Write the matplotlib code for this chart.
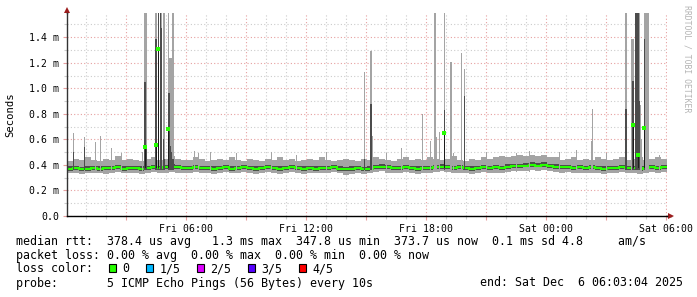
import numpy as np
import matplotlib
matplotlib.use("Agg")
import matplotlib.pyplot as plt
import matplotlib.dates as mdates
from matplotlib.ticker import MultipleLocator, FuncFormatter
from matplotlib.patches import Rectangle
from datetime import datetime

# ---- data (ms), 100 bins of 18 min, Fri 00:03 -> Sat 06:03 ----
start = datetime(2025, 12, 5, 0, 3)
end = datetime(2025, 12, 6, 6, 3)
bin_min = 18

rtt_med = [0.370, 0.375, 0.365, 0.370, 0.375, 0.370, 0.375, 0.375, 0.380, 0.370,
           0.375, 0.375, 0.370, 0.375, 0.380, 0.375, 0.380, 0.385, 0.380, 0.375,
           0.375, 0.380, 0.375, 0.375, 0.370, 0.375, 0.380, 0.370, 0.375, 0.380,
           0.375, 0.370, 0.375, 0.380, 0.375, 0.370, 0.375, 0.380, 0.375, 0.370,
           0.375, 0.370, 0.375, 0.375, 0.380, 0.370, 0.365, 0.370, 0.375, 0.365,
           0.370, 0.380, 0.385, 0.380, 0.375, 0.375, 0.380, 0.375, 0.370, 0.375,
           0.375, 0.380, 0.385, 0.380, 0.375, 0.380, 0.375, 0.370, 0.375, 0.380,
           0.375, 0.380, 0.375, 0.385, 0.390, 0.390, 0.395, 0.400, 0.395, 0.400,
           0.390, 0.385, 0.380, 0.380, 0.375, 0.380, 0.375, 0.380, 0.375, 0.370,
           0.375, 0.375, 0.380, 0.375, 0.375, 0.370, 0.375, 0.380, 0.375, 0.380]
rtt_p1 = [0.335, 0.340, 0.330, 0.335, 0.340, 0.335, 0.330, 0.340, 0.345, 0.335,
          0.340, 0.335, 0.330, 0.340, 0.345, 0.335, 0.340, 0.345, 0.340, 0.335,
          0.340, 0.345, 0.335, 0.340, 0.330, 0.335, 0.345, 0.335, 0.340, 0.345,
          0.335, 0.330, 0.340, 0.345, 0.335, 0.330, 0.340, 0.345, 0.335, 0.330,
          0.340, 0.335, 0.340, 0.335, 0.345, 0.335, 0.325, 0.330, 0.340, 0.330,
          0.335, 0.345, 0.350, 0.340, 0.335, 0.340, 0.345, 0.335, 0.330, 0.340,
          0.340, 0.345, 0.350, 0.345, 0.335, 0.340, 0.335, 0.330, 0.340, 0.345,
          0.335, 0.340, 0.335, 0.345, 0.350, 0.350, 0.355, 0.360, 0.355, 0.360,
          0.350, 0.345, 0.340, 0.345, 0.335, 0.340, 0.335, 0.340, 0.335, 0.330,
          0.335, 0.340, 0.345, 0.335, 0.340, 0.330, 0.335, 0.345, 0.340, 0.345]
rtt_p2 = [0.355, 0.360, 0.350, 0.355, 0.360, 0.355, 0.360, 0.360, 0.365, 0.355,
          0.360, 0.360, 0.355, 0.360, 0.365, 0.360, 0.365, 0.370, 0.365, 0.360,
          0.360, 0.365, 0.360, 0.360, 0.355, 0.360, 0.365, 0.355, 0.360, 0.365,
          0.360, 0.355, 0.360, 0.365, 0.360, 0.355, 0.360, 0.365, 0.360, 0.355,
          0.360, 0.355, 0.360, 0.360, 0.365, 0.355, 0.350, 0.355, 0.360, 0.350,
          0.355, 0.365, 0.370, 0.365, 0.360, 0.360, 0.365, 0.360, 0.355, 0.360,
          0.360, 0.365, 0.370, 0.365, 0.360, 0.365, 0.360, 0.355, 0.360, 0.365,
          0.360, 0.365, 0.360, 0.370, 0.375, 0.375, 0.380, 0.385, 0.380, 0.385,
          0.375, 0.370, 0.365, 0.365, 0.360, 0.365, 0.360, 0.365, 0.360, 0.355,
          0.360, 0.360, 0.365, 0.360, 0.360, 0.355, 0.360, 0.365, 0.360, 0.365]
rtt_p4 = [0.390, 0.395, 0.385, 0.395, 0.390, 0.390, 0.395, 0.390, 0.400, 0.390,
          0.395, 0.390, 0.390, 0.395, 0.400, 0.395, 0.400, 0.405, 0.400, 0.395,
          0.395, 0.400, 0.395, 0.390, 0.390, 0.395, 0.400, 0.390, 0.395, 0.400,
          0.395, 0.390, 0.395, 0.400, 0.395, 0.390, 0.395, 0.400, 0.395, 0.390,
          0.395, 0.390, 0.395, 0.395, 0.400, 0.390, 0.385, 0.390, 0.395, 0.385,
          0.390, 0.400, 0.405, 0.400, 0.395, 0.395, 0.400, 0.395, 0.390, 0.395,
          0.395, 0.400, 0.405, 0.400, 0.395, 0.400, 0.395, 0.390, 0.395, 0.400,
          0.395, 0.400, 0.395, 0.405, 0.410, 0.410, 0.415, 0.420, 0.415, 0.420,
          0.410, 0.405, 0.400, 0.400, 0.395, 0.400, 0.395, 0.400, 0.395, 0.390,
          0.395, 0.395, 0.400, 0.395, 0.395, 0.390, 0.395, 0.400, 0.395, 0.400]
rtt_p5 = [0.43, 0.45, 0.44, 0.46, 0.44, 0.43, 0.45, 0.44, 0.47, 0.44,
          0.45, 0.44, 0.43, 0.45, 0.46, 0.44, 0.45, 0.47, 0.45, 0.44,
          0.44, 0.46, 0.45, 0.43, 0.44, 0.45, 0.44, 0.46, 0.44, 0.43,
          0.45, 0.44, 0.43, 0.45, 0.44, 0.46, 0.44, 0.45, 0.43, 0.44,
          0.45, 0.44, 0.46, 0.44, 0.43, 0.44, 0.45, 0.44, 0.43, 0.45,
          0.44, 0.46, 0.45, 0.44, 0.43, 0.45, 0.46, 0.44, 0.45, 0.44,
          0.46, 0.45, 0.44, 0.45, 0.47, 0.44, 0.43, 0.45, 0.44, 0.46,
          0.45, 0.46, 0.47, 0.46, 0.47, 0.48, 0.47, 0.48, 0.47, 0.48,
          0.46, 0.46, 0.44, 0.45, 0.46, 0.44, 0.45, 0.44, 0.46, 0.45,
          0.44, 0.45, 0.46, 0.44, 0.45, 0.46, 0.44, 0.45, 0.46, 0.45]

# single 3-minute steps that stick out of the band
nan = np.nan
spike_times = ["2025-12-05 00:21", "2025-12-05 00:54", "2025-12-05 01:27", "2025-12-05 01:42",
               "2025-12-05 02:15", "2025-12-05 02:45", "2025-12-05 03:48", "2025-12-05 03:54",
               "2025-12-05 03:57", "2025-12-05 04:00", "2025-12-05 04:27", "2025-12-05 04:30",
               "2025-12-05 04:36", "2025-12-05 04:42", "2025-12-05 04:45", "2025-12-05 04:51",
               "2025-12-05 04:54", "2025-12-05 05:06", "2025-12-05 05:09", "2025-12-05 05:12",
               "2025-12-05 05:15", "2025-12-05 05:18", "2025-12-05 05:21", "2025-12-05 06:24",
               "2025-12-05 06:36", "2025-12-05 07:12", "2025-12-05 08:30", "2025-12-05 10:15",
               "2025-12-05 11:30", "2025-12-05 13:00", "2025-12-05 14:54", "2025-12-05 15:12",
               "2025-12-05 15:15", "2025-12-05 15:18", "2025-12-05 16:00", "2025-12-05 16:45",
               "2025-12-05 17:48", "2025-12-05 18:12", "2025-12-05 18:24", "2025-12-05 18:27",
               "2025-12-05 18:30", "2025-12-05 18:39", "2025-12-05 18:54", "2025-12-05 19:12",
               "2025-12-05 19:15", "2025-12-05 19:21", "2025-12-05 19:45", "2025-12-05 19:54",
               "2025-12-05 21:00", "2025-12-05 22:30", "2025-12-05 23:10", "2025-12-06 00:40",
               "2025-12-06 01:30", "2025-12-06 02:15", "2025-12-06 02:18", "2025-12-06 03:00",
               "2025-12-06 03:57", "2025-12-06 04:00", "2025-12-06 04:15", "2025-12-06 04:18",
               "2025-12-06 04:21", "2025-12-06 04:27", "2025-12-06 04:30", "2025-12-06 04:33",
               "2025-12-06 04:36", "2025-12-06 04:39", "2025-12-06 04:42", "2025-12-06 04:45",
               "2025-12-06 04:54", "2025-12-06 04:57", "2025-12-06 05:00", "2025-12-06 05:03",
               "2025-12-06 05:06", "2025-12-06 05:40"]
spike_max = [0.65, 0.62, 0.58, 0.63, 0.53, 0.49, 0.50, 1.60,
             1.60, 1.60, 1.60, 1.60, 1.60, 1.60, 1.60, 1.60,
             1.60, 1.60, 1.24, 1.24, 1.24, 1.60, 1.60, 0.51,
             0.49, 0.50, 0.49, 0.50, 0.48, 0.50, 1.13, 1.29,
             1.29, 0.63, 0.49, 0.53, 0.80, 0.59, 1.60, 1.60,
             0.62, 0.66, 1.60, 1.21, 1.21, 0.49, 1.28, 1.15,
             0.50, 0.49, 0.51, 0.50, 0.52, 0.59, 0.84, 0.49,
             1.60, 1.60, 1.39, 1.39, 1.39, 1.60, 1.60, 1.60,
             1.60, 1.60, 0.87, 0.60, 1.60, 1.60, 1.60, 1.60,
             1.60, 0.48]
spike_dark = [0.50, 0.54, nan, nan, nan, nan, nan, 1.05,
              1.05, 0.56, 1.39, 1.39, 1.60, 1.60, 1.47, 0.60,
              0.45, 0.96, 0.96, 0.55, 0.50, 0.45, 0.45, nan,
              nan, nan, nan, nan, nan, nan, 0.45, 0.88,
              0.88, nan, nan, nan, nan, nan, nan, nan,
              nan, nan, 0.83, nan, nan, nan, nan, 0.94,
              nan, nan, nan, nan, nan, nan, nan, nan,
              0.84, 0.84, nan, 1.06, 1.06, 1.60, 1.60, 1.60,
              1.60, 0.90, nan, nan, 1.39, nan, nan, nan,
              nan, nan]
spike_med = [nan, nan, nan, nan, nan, nan, nan, nan,
             0.54, nan, nan, 0.56, 1.31, nan, nan, nan,
             nan, 0.68, nan, nan, nan, nan, nan, nan,
             nan, nan, nan, nan, nan, nan, nan, nan,
             nan, nan, nan, nan, nan, nan, nan, nan,
             nan, nan, 0.65, nan, nan, nan, nan, nan,
             nan, nan, nan, nan, nan, nan, nan, nan,
             nan, nan, nan, nan, 0.71, nan, nan, nan,
             0.48, nan, nan, nan, 0.69, nan, nan, nan,
             nan, nan]

loss_labels = ["0", "1/5", "2/5", "3/5", "4/5"]
loss_colors = ["#26ff00", "#00b8ff", "#dd00ff", "#5500ff", "#ff0000"]

stats_line = "median rtt:  378.4 us avg   1.3 ms max  347.8 us min  373.7 us now  0.1 ms sd 4.8     am/s"
loss_line = "packet loss: 0.00 % avg  0.00 % max  0.00 % min  0.00 % now"
probe_line = "probe:       5 ICMP Echo Pings (56 Bytes) every 10s"
end_line = "end: Sat Dec  6 06:03:04 2025"

LIGHT = "#a4a4a4"
DARK = "#4c4c4c"
GREEN = "#26ff00"
MONO = "DejaVu Sans Mono"

W, H = 697, 297
fig = plt.figure(figsize=(W / 100, H / 100), dpi=100)
ax = fig.add_axes([67 / W, 81 / H, 600 / W, 203 / H])

t0 = mdates.date2num(start)
edges = t0 + np.arange(len(rtt_med) + 1) * bin_min / 1440.0
st = np.array([mdates.date2num(datetime.strptime(s, "%Y-%m-%d %H:%M")) for s in spike_times])
smax = np.array(spike_max)
sdark = np.array(spike_dark)
smed = np.array(spike_med)
px = 0.72  # one pixel in points

# smoke
ax.stairs(rtt_p5, edges, baseline=rtt_p1, fill=True, color=LIGHT, lw=0)
ax.vlines(st, 0.35, smax, colors=LIGHT, lw=px, antialiased=False)
ax.stairs(rtt_p4, edges, baseline=rtt_p2, fill=True, color=DARK, lw=0)
m = ~np.isnan(sdark)
ax.vlines(st[m], 0.37, sdark[m], colors=DARK, lw=px, antialiased=False)
m2 = ~np.isnan(smed)
ax.vlines(st[m2], 0.38, smed[m2], colors="#1c1c1c", lw=px, antialiased=False)

# median
ax.stairs(rtt_med, edges, baseline=None, color=GREEN, lw=1.5)
ax.plot(st[m2], smed[m2], "s", ms=2.2, mew=0, color=GREEN)

ax.set_xlim(t0, mdates.date2num(end))
ax.set_ylim(0, 1.59)

# axes / grid
ax.xaxis.set_major_locator(mdates.HourLocator(byhour=range(0, 24, 3)))
ax.xaxis.set_minor_locator(mdates.HourLocator())
ax.xaxis.set_major_formatter(FuncFormatter(
    lambda v, p: mdates.num2date(v).strftime("%a %H:%M") if mdates.num2date(v).hour % 6 == 0 else ""))
ax.yaxis.set_major_locator(MultipleLocator(0.2))
ax.yaxis.set_minor_locator(MultipleLocator(0.1))
ax.yaxis.set_major_formatter(FuncFormatter(lambda v, p: "0.0" if abs(v) < 1e-9 else "%.1f m" % v))

ax.grid(which="major", color="#e6a0a0", linestyle=(0, (1, 2)), linewidth=0.8)
ax.grid(which="minor", color="#cccccc", linestyle=(0, (1, 2)), linewidth=0.8)
ax.set_axisbelow(True)

ax.tick_params(which="major", length=3, width=0.8, color="#e6a0a0", labelsize=7.1, pad=2.5)
ax.tick_params(which="minor", length=2, width=0.8, color="#cccccc")
for lab in ax.get_xticklabels() + ax.get_yticklabels():
    lab.set_family(MONO)

for s in ["top", "right"]:
    ax.spines[s].set_visible(False)
ax.spines["left"].set_color("#333333")
ax.spines["bottom"].set_color("#000000")
ax.spines["left"].set_linewidth(1)
ax.spines["bottom"].set_linewidth(1)

arrow_col = "#9c1c1c"
ax.plot([0, 0], [1, 1.012], transform=ax.transAxes, clip_on=False, color="#333333", lw=1)
ax.plot([1, 1.006], [0, 0], transform=ax.transAxes, clip_on=False, color="#000000", lw=1)
ax.plot([0], [1.015], marker="^", ms=4, mew=0, color=arrow_col, transform=ax.transAxes, clip_on=False)
ax.plot([1.006], [0], marker=">", ms=4, mew=0, color=arrow_col, transform=ax.transAxes, clip_on=False)

fig.text(10.5 / W, 1 - 114.5 / H, "Seconds", rotation=90, ha="center", va="center",
         family=MONO, size=7.6)
fig.text(687.5 / W, 1 - 5 / H, "RRDTOOL / TOBI OETIKER", rotation=270, ha="center", va="top",
         family=MONO, size=5.9, color="#b4b4b4")

# legend text
fs = 8.4
fig.text(16 / W, 1 - 241.5 / H, stats_line, ha="left", va="center", family=MONO, size=fs)
fig.text(16 / W, 1 - 255.3 / H, loss_line, ha="left", va="center", family=MONO, size=fs)
fig.text(16 / W, 1 - 269 / H, "loss color:", ha="left", va="center", family=MONO, size=fs)
fig.text(16 / W, 1 - 283 / H, probe_line, ha="left", va="center", family=MONO, size=fs)
fig.text(683 / W, 1 - 283 / H, end_line, ha="right", va="center", family=MONO, size=fs)

x = 108.5
for lab, col in zip(loss_labels, loss_colors):
    fig.add_artist(Rectangle((x / W, 1 - 271.5 / H), 7.5 / W, 7.5 / H, transform=fig.transFigure,
                             facecolor=col, edgecolor="black", lw=0.8))
    fig.text((x + 14) / W, 1 - 269 / H, lab, ha="left", va="center", family=MONO, size=fs)
    x += 14 + 7.02 * len(lab) + 16

fig.savefig("out.png", dpi=100, facecolor="white")
